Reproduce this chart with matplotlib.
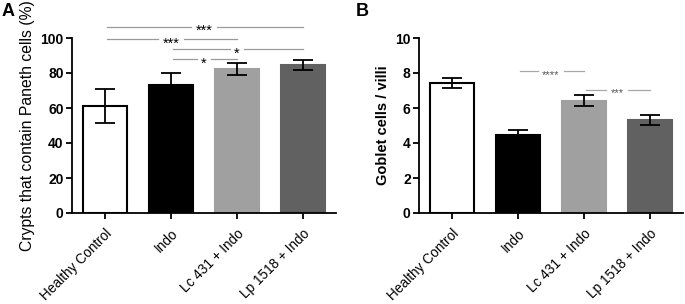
import matplotlib
matplotlib.use('Agg')
import matplotlib.pyplot as plt
import numpy as np

plt.rcParams['font.family'] = ['Liberation Sans', 'DejaVu Sans']

groups = ['Healthy Control', 'Indo', 'Lc 431 + Indo', 'Lp 1518 + Indo']
bar_colors = ['white', 'black', '#a0a0a0', '#616161']

paneth_mean = [61.0, 73.0, 82.5, 84.5]
paneth_err = [9.8, 6.8, 3.5, 2.8]
paneth_sig = [(0, 3, 106.5, '***'), (0, 2, 99.5, '***'),
              (1, 3, 93.7, '*'), (1, 2, 88.0, '*')]

goblet_mean = [7.43, 4.43, 6.42, 5.33]
goblet_err = [0.29, 0.33, 0.32, 0.28]
goblet_sig = [(1, 2, 8.1, '****'), (2, 3, 7.05, '***')]

fig = plt.figure(figsize=(6.85, 3.04), dpi=100)
axA = fig.add_axes([72/685, 91/304, 264/685, 175/304])
axB = fig.add_axes([419/685, 91/304, 264/685, 175/304])

px_per_unit = 66.0  # one category step in pixels


def draw_panel(ax, means, errs, ymax, yticks, ylabel, sigs, sig_style):
    x = np.arange(len(groups))
    ax.bar(x, means, width=0.67, color=bar_colors,
           edgecolor=['black', 'black', '#a0a0a0', '#616161'],
           linewidth=1.5, zorder=2)
    ax.errorbar(x, means, yerr=errs, fmt='none', ecolor='black',
                elinewidth=1.3, capsize=7, capthick=1.3, zorder=3)
    ax.set_xlim(-0.5, 3.5)
    ax.set_ylim(0, ymax)
    ax.set_yticks(yticks)
    ax.set_yticklabels([str(t) for t in yticks], fontsize=10, fontweight='bold')
    ax.set_xticks(x)
    ax.set_xticklabels(groups, rotation=45, ha='right', rotation_mode='anchor',
                       fontsize=9.8)
    ax.set_ylabel(ylabel, labelpad=4)
    for s in ['top', 'right']:
        ax.spines[s].set_visible(False)
    for s in ['left', 'bottom']:
        ax.spines[s].set_linewidth(1.3)
    ax.tick_params(axis='both', width=1.3, length=4)
    ax.tick_params(axis='y', pad=2)
    ax.tick_params(axis='x', pad=6)
    lc, fs, tc, margin = sig_style
    for i, j, y, label in sigs:
        xm = (i + j) / 2
        half = (len(label) * 0.39 * fs * 100 / 72) / 2 + margin
        half /= px_per_unit
        ax.plot([i + 0.03, xm - half], [y, y], color=lc, lw=0.9,
                clip_on=False, zorder=1)
        ax.plot([xm + half, j], [y, y], color=lc, lw=0.9,
                clip_on=False, zorder=1)
        ax.annotate(label, xy=(xm, y), xytext=(0, -0.58 * fs),
                    textcoords='offset points', ha='center', va='baseline',
                    fontsize=fs, color=tc, zorder=4, annotation_clip=False)


draw_panel(axA, paneth_mean, paneth_err, 100, [0, 20, 40, 60, 80, 100],
           'Crypts that contain Paneth cells (%)', paneth_sig,
           ('#9a9a9a', 10.5, 'black', 4))
draw_panel(axB, goblet_mean, goblet_err, 10, [0, 2, 4, 6, 8, 10],
           'Goblet cells / villi', goblet_sig, ('#a8a8a8', 8, '#555555', 4))
axA.yaxis.label.set_fontsize(11.3)
axB.yaxis.label.set_fontsize(10.5)
axB.yaxis.label.set_fontweight('bold')

fig.text(2/685, 1 - 3/304, 'A', fontsize=13, fontweight='bold', va='top')
fig.text(356/685, 1 - 3/304, 'B', fontsize=13, fontweight='bold', va='top')

fig.savefig('out.png', dpi=100)
